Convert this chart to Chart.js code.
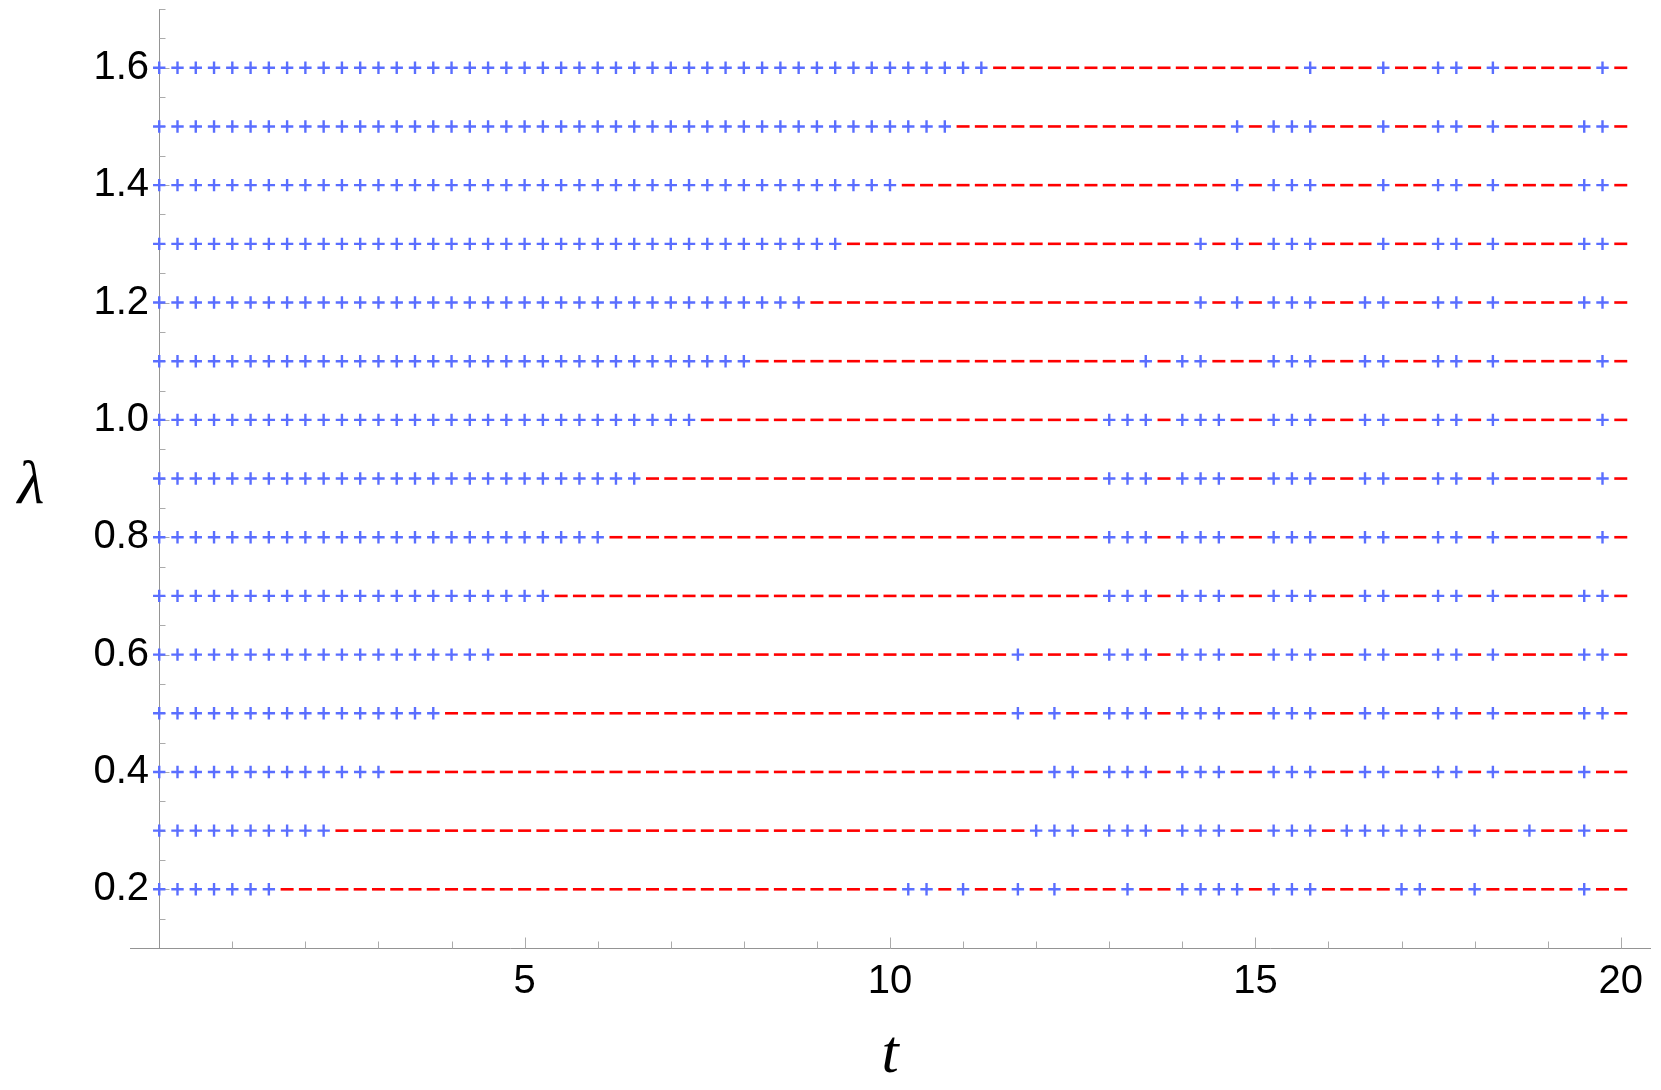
<!DOCTYPE html>
<html>
<head>
<meta charset="utf-8">
<script src="https://cdn.jsdelivr.net/npm/chart.js@4.4.1/dist/chart.umd.min.js"></script>
<style>
html,body{margin:0;padding:0;background:#ffffff;}
#wrap{position:relative;width:1661px;height:1090px;}
</style>
</head>
<body>
<div id="wrap"><canvas id="c" width="1661" height="1090"></canvas></div>
<script>
// ---- data ----
const lambdaValues = [0.2,0.3,0.4,0.5,0.6,0.7,0.8,0.9,1.0,1.1,1.2,1.3,1.4,1.5,1.6];
const tGrid = [0,0.25,0.5,0.75,1,1.25,1.5,1.75,2,2.25,2.5,2.75,3,3.25,3.5,3.75,4,4.25,4.5,4.75,
  5,5.25,5.5,5.75,6,6.25,6.5,6.75,7,7.25,7.5,7.75,8,8.25,8.5,8.75,9,9.25,9.5,9.75,
  10,10.25,10.5,10.75,11,11.25,11.5,11.75,12,12.25,12.5,12.75,13,13.25,13.5,13.75,14,14.25,14.5,14.75,
  15,15.25,15.5,15.75,16,16.25,16.5,16.75,17,17.25,17.5,17.75,18,18.25,18.5,18.75,19,19.25,19.5,19.75,20];
// one character per tGrid entry ('+' blue cross, '-' red dash); spaces only group by unit of t
const signRows = [
  "++++ +++- ---- ---- ---- ---- ---- ---- ---- ---- -++- +--+ -+-- -+-- ++++ -+++ ---- ++-- +--- --+- -", // 0.2
  "++++ ++++ ++-- ---- ---- ---- ---- ---- ---- ---- ---- ---- +++- +++- +++- -+++ -+++ ++-- +--+ --+- -", // 0.3
  "++++ ++++ ++++ +--- ---- ---- ---- ---- ---- ---- ---- ---- -++- +++- +++- -+++ --++ --++ -+-- --+- -", // 0.4
  "++++ ++++ ++++ ++++ ---- ---- ---- ---- ---- ---- ---- ---+ -+-- +++- +++- -+++ --++ --++ -+-- --++ -", // 0.5
  "++++ ++++ ++++ ++++ +++- ---- ---- ---- ---- ---- ---- ---+ ---- +++- +++- -+++ --++ --++ -+-- --++ -", // 0.6
  "++++ ++++ ++++ ++++ ++++ ++-- ---- ---- ---- ---- ---- ---- ---- +++- +++- -+++ --++ --++ -+-- --++ -", // 0.7
  "++++ ++++ ++++ ++++ ++++ ++++ +--- ---- ---- ---- ---- ---- ---- +++- +++- -+++ --++ --++ -+-- ---+ -", // 0.8
  "++++ ++++ ++++ ++++ ++++ ++++ +++- ---- ---- ---- ---- ---- ---- +++- +++- -+++ --++ --++ -+-- ---+ -", // 0.9
  "++++ ++++ ++++ ++++ ++++ ++++ ++++ ++-- ---- ---- ---- ---- ---- +++- +++- -+++ --++ --++ -+-- ---+ -", // 1.0
  "++++ ++++ ++++ ++++ ++++ ++++ ++++ ++++ +--- ---- ---- ---- ---- --+- ++-- -+++ --++ --++ -+-- ---+ -", // 1.1
  "++++ ++++ ++++ ++++ ++++ ++++ ++++ ++++ ++++ ---- ---- ---- ---- ---- -+-+ -+++ --++ --++ -+-- --++ -", // 1.2
  "++++ ++++ ++++ ++++ ++++ ++++ ++++ ++++ ++++ ++-- ---- ---- ---- ---- -+-+ -+++ ---+ --++ -+-- --++ -", // 1.3
  "++++ ++++ ++++ ++++ ++++ ++++ ++++ ++++ ++++ ++++ +--- ---- ---- ---- ---+ -+++ ---+ --++ -+-- --++ -", // 1.4
  "++++ ++++ ++++ ++++ ++++ ++++ ++++ ++++ ++++ ++++ ++++ ---- ---- ---- ---+ -+++ ---+ --++ -+-- --++ -", // 1.5
  "++++ ++++ ++++ ++++ ++++ ++++ ++++ ++++ ++++ ++++ ++++ ++-- ---- ---- ---- ---+ ---+ --++ -+-- ---+ -"  // 1.6
];
const xTickValues = [5,10,15,20];
const xTickLabels = ["5","10","15","20"];
const xMinorTicks = [1,2,3,4,5,6,7,8,9,10,11,12,13,14,15,16,17,18,19,20];
const yTickValues = [0.2,0.4,0.6,0.8,1.0,1.2,1.4,1.6];
const yTickLabels = ["0.2","0.4","0.6","0.8","1.0","1.2","1.4","1.6"];
const yMinorTicks = [0.15,0.2,0.25,0.3,0.35,0.4,0.45,0.5,0.55,0.6,0.65,0.7,0.75,0.8,0.85,0.9,0.95,1.0,
  1.05,1.1,1.15,1.2,1.25,1.3,1.35,1.4,1.45,1.5,1.55,1.6,1.65,1.7];

// ---- build point lists ----
const plusPts = [], minusPts = [];
lambdaValues.forEach((lam, r) => {
  const s = signRows[r].replace(/\s/g, '');
  if (s.length !== tGrid.length) console.warn('row length mismatch', lam, s.length);
  tGrid.forEach((t, k) => {
    (s[k] === '+' ? plusPts : minusPts).push({x: t, y: lam});
  });
});

const BLUE = 'rgb(90,110,255)';
const RED = 'rgb(255,0,0)';
const AXIS = '#949494';
const TICK = '#ababab';
const LABEL_FONT = '"Liberation Sans", Arial, sans-serif';
const near = (arr, v) => arr.some(a => Math.abs(a - v) < 1e-9);

const decor = {
  id: 'decor',
  beforeDatasetsDraw(chart) {
    const {ctx, scales: {x, y}} = chart;
    const yb = Math.round(y.getPixelForValue(0.1)) + 0.5;
    const x0 = Math.round(x.getPixelForValue(0)) + 0.5;
    ctx.save();
    ctx.strokeStyle = TICK;
    ctx.lineWidth = 1;
    xMinorTicks.forEach(v => {
      const px = Math.round(x.getPixelForValue(v)) + 0.5;
      const len = near(xTickValues, v) ? 11 : 7;
      ctx.beginPath(); ctx.moveTo(px, yb); ctx.lineTo(px, yb - len); ctx.stroke();
    });
    yMinorTicks.forEach(v => {
      const py = Math.round(y.getPixelForValue(v)) + 0.5;
      const len = near(yTickValues, v) ? 10 : 6;
      ctx.beginPath(); ctx.moveTo(x0, py); ctx.lineTo(x0 + len, py); ctx.stroke();
    });
    ctx.restore();
  },
  afterDraw(chart) {
    const {ctx, chartArea} = chart;
    ctx.save();
    ctx.fillStyle = '#000';
    ctx.font = 'italic 62px "Liberation Serif", "DejaVu Serif", serif';
    ctx.textAlign = 'center';
    ctx.textBaseline = 'alphabetic';
    ctx.fillText('\u03BB', 31, (chartArea.top + chartArea.bottom) / 2 + 24);
    ctx.restore();
  }
};

const yLabelCallback = (v) => {
  const i = yTickValues.findIndex(a => Math.abs(a - v) < 1e-9);
  return i >= 0 ? yTickLabels[i] : '';
};

new Chart(document.getElementById('c'), {
  type: 'scatter',
  data: {
    datasets: [
      {
        label: 'minus',
        data: minusPts,
        pointStyle: 'line',
        pointRadius: 6.5,
        pointHoverRadius: 6.5,
        borderColor: RED,
        pointBorderColor: RED,
        pointBorderWidth: 2.6,
        borderWidth: 2.6,
        backgroundColor: RED
      },
      {
        label: 'plus',
        data: plusPts,
        pointStyle: 'cross',
        pointRadius: 6.2,
        pointHoverRadius: 6.2,
        borderColor: BLUE,
        pointBorderColor: BLUE,
        pointBorderWidth: 2.4,
        borderWidth: 2.4,
        backgroundColor: BLUE
      }
    ]
  },
  options: {
    responsive: false,
    animation: false,
    events: [],
    layout: { padding: { left: 130, right: 11, top: 8, bottom: 0 } },
    plugins: { legend: { display: false }, tooltip: { enabled: false } },
    scales: {
      x: {
        type: 'linear',
        position: 'bottom',
        min: -0.4,
        max: 20.4,
        afterBuildTicks: (s) => { s.ticks = xTickValues.map(v => ({value: v})); },
        ticks: {
          autoSkip: false,
          maxRotation: 0,
          padding: 12,
          color: '#000',
          font: { family: LABEL_FONT, size: 40, lineHeight: '44px' },
          callback: (v) => { const i = xTickValues.indexOf(v); return i >= 0 ? xTickLabels[i] : ''; }
        },
        grid: { drawOnChartArea: false, drawTicks: false },
        border: { display: true, color: AXIS, width: 1 },
        title: {
          display: true,
          text: 't',
          color: '#000',
          font: { family: '"Liberation Serif", "DejaVu Serif", serif', style: 'italic', size: 62, lineHeight: 1 },
          padding: { top: 9, bottom: 3 }
        }
      },
      y: {
        type: 'linear',
        position: { x: 0 },
        min: 0.1,
        max: 1.7,
        ticks: { display: false },
        grid: { drawOnChartArea: false, drawTicks: false },
        border: { display: true, color: AXIS, width: 1 }
      },
      yLabels: {
        type: 'linear',
        axis: 'y',
        position: { x: -0.14 },
        min: 0.1,
        max: 1.7,
        afterBuildTicks: (s) => { s.ticks = yTickValues.map(v => ({value: v})); },
        ticks: {
          autoSkip: false,
          padding: 0,
          color: '#000',
          font: { family: LABEL_FONT, size: 40, lineHeight: '10px' },
          callback: yLabelCallback
        },
        grid: { display: false, drawOnChartArea: false, drawTicks: false },
        border: { display: false }
      }
    }
  },
  plugins: [decor]
});
</script>
</body>
</html>
